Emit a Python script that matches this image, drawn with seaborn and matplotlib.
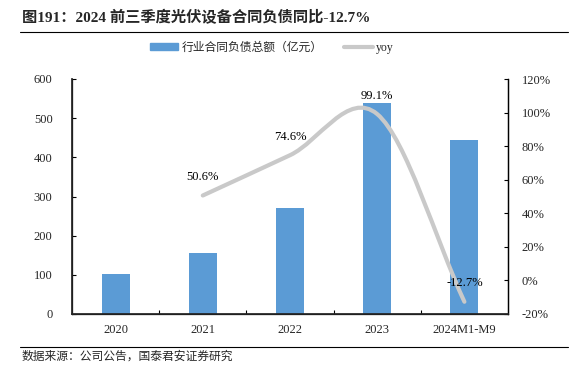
import numpy as np
import pandas as pd
import matplotlib.pyplot as plt
import seaborn as sns
from matplotlib.path import Path
from matplotlib.patches import PathPatch, Patch
from matplotlib.lines import Line2D
from matplotlib.ticker import FuncFormatter

years = ['2020', '2021', '2022', '2023', '2024M1-M9']
debt = [102, 155, 270, 538, 444]          # 行业合同负债总额（亿元）
yoy_years = ['2021', '2022', '2023', '2024M1-M9']
yoy = [50.6, 74.6, 99.1, -12.7]           # %

sns.set_theme(style='white')
plt.rcParams['font.family'] = ['Liberation Serif', 'Noto Sans CJK SC']
plt.rcParams['axes.unicode_minus'] = False

fig = plt.figure(figsize=(5.79, 3.71), dpi=100)
ax = fig.add_axes([72/579, 1-314/371, 436/579, 235/371])

df = pd.DataFrame({'year': years, 'debt': debt})
sns.barplot(data=df, x='year', y='debt', ax=ax, color='#5B9BD5', width=0.32,
            saturation=1, edgecolor='none')
ax.set_ylim(0, 600)
ax.set_xlim(-0.5, 4.5)
ax.set_yticks(range(0, 601, 100))
ax.set_xlabel('')
ax.set_ylabel('')
ax.tick_params(axis='y', direction='in', length=3, width=0.8, color='black',
               labelsize=9, pad=14, left=True)
ax.tick_params(axis='x', which='major', length=0, labelsize=9, pad=7)
ax.set_xticks(np.arange(0.5, 4.5, 1), minor=True)
ax.tick_params(axis='x', which='minor', direction='in', length=3, width=0.8,
               color='black', bottom=True)
ax.spines['top'].set_visible(False)
for s in ['left', 'bottom', 'right']:
    ax.spines[s].set_color('black')
    ax.spines[s].set_linewidth(0.9)

ax2 = ax.twinx()
ax2.set_ylim(-20, 120)
ax2.set_yticks(range(-20, 121, 20))
ax2.yaxis.set_major_formatter(FuncFormatter(lambda v, p: f'{int(v)}%'))
ax2.tick_params(axis='y', direction='in', length=3, width=0.8, color='black',
                labelsize=9, pad=10, right=True)
ax2.spines['top'].set_visible(False)
ax2.spines['right'].set_color('black')
ax2.spines['right'].set_linewidth(0.9)
ax2.grid(False)
ax.grid(False)

# smoothed yoy line (Catmull-Rom -> cubic Bezier)
xs = np.array([years.index(y) for y in yoy_years], dtype=float)
ys = np.array(yoy, dtype=float)
pts = np.column_stack([xs, ys])
n = len(pts)
tang = np.zeros_like(pts)
for i in range(n):
    if i == 0:
        tang[i] = pts[1] - pts[0]
    elif i == n - 1:
        tang[i] = pts[-1] - pts[-2]
    else:
        tang[i] = (pts[i+1] - pts[i-1]) / 2
verts = [tuple(pts[0])]
codes = [Path.MOVETO]
for i in range(n - 1):
    verts += [tuple(pts[i] + tang[i]/3), tuple(pts[i+1] - tang[i+1]/3), tuple(pts[i+1])]
    codes += [Path.CURVE4] * 3
ax2.add_patch(PathPatch(Path(verts, codes), facecolor='none', edgecolor='#C9C9C9',
                        lw=3, capstyle='round'))

for x, v in zip(xs, ys):
    ax2.annotate(f'{v:.1f}%', (x, v), xytext=(0, 9), textcoords='offset points',
                 ha='center', va='bottom', fontsize=9, color='black')

handles = [Patch(color='#5B9BD5', label='行业合同负债总额（亿元）'),
           Line2D([], [], color='#C9C9C9', lw=3, label='yoy')]
fig.legend(handles=handles, loc='center', bbox_to_anchor=(272/579, 1-48/371),
           ncol=2, frameon=False, fontsize=8.5, handlelength=2.4, handleheight=0.5,
           columnspacing=1.8, handletextpad=0.3)

fig.text(22/579, 1-18/371, '图191：2024 前三季度光伏设备合同负债同比-12.7%',
         fontsize=11, fontweight='bold', va='center', ha='left')
fig.add_artist(Line2D([20/579, 568/579], [1-32/371, 1-32/371], color='black', lw=0.8))
fig.add_artist(Line2D([20/579, 568/579], [1-347/371, 1-347/371], color='black', lw=0.8))
fig.text(22/579, 1-357/371, '数据来源：公司公告，国泰君安证券研究',
         fontsize=8.5, va='center', ha='left')

fig.savefig('out.png', dpi=100)
